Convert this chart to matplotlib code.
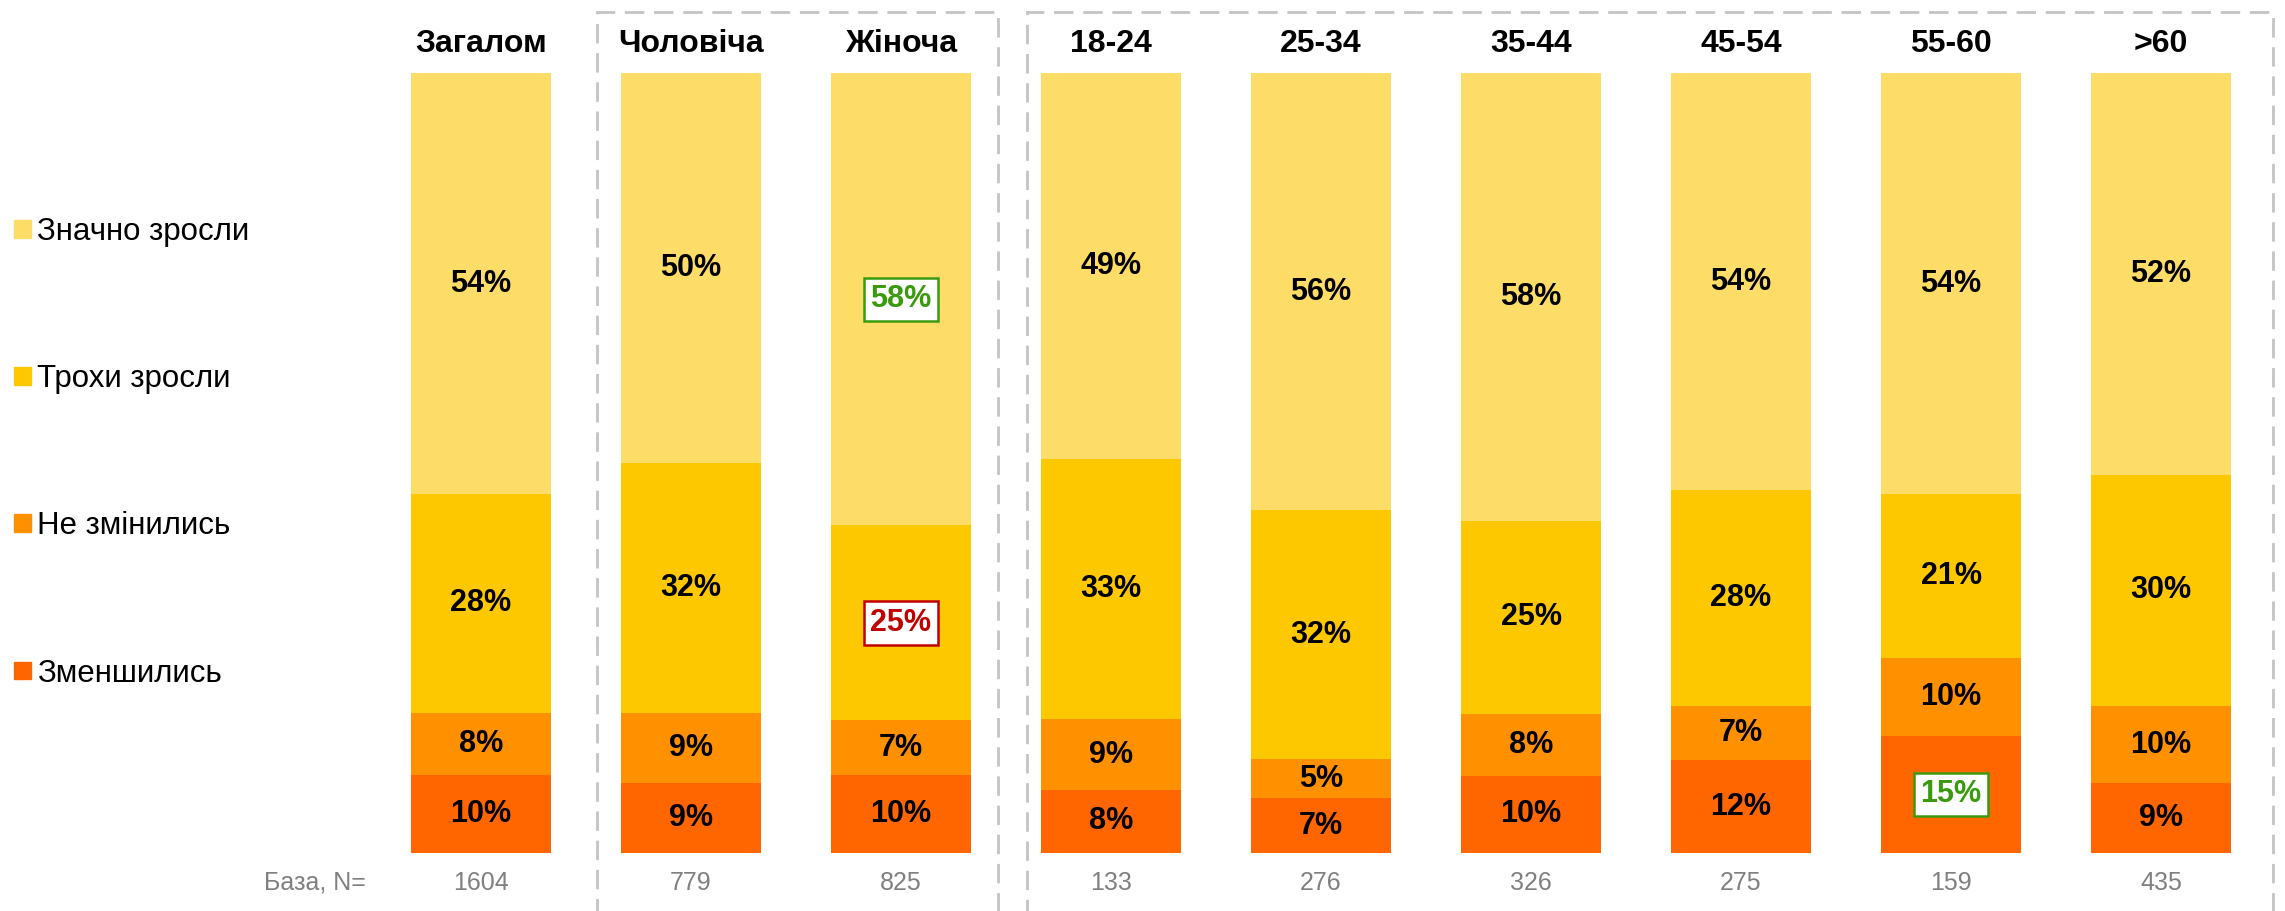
import matplotlib.pyplot as plt
from matplotlib.patches import Rectangle, Patch
import numpy as np

plt.rcParams['font.family'] = ['Liberation Sans', 'DejaVu Sans']

groups = ['Загалом', 'Чоловіча', 'Жіноча', '18-24', '25-34', '35-44', '45-54', '55-60', '>60']
base_n = [1604, 779, 825, 133, 276, 326, 275, 159, 435]

# series from bottom to top of the stack
series = ['Зменшились', 'Не змінились', 'Трохи зросли', 'Значно зросли']
decreased = [10, 9, 10, 8, 7, 10, 12, 15, 9]
unchanged = [8, 9, 7, 9, 5, 8, 7, 10, 10]
slightly_up = [28, 32, 25, 33, 32, 25, 28, 21, 30]
strongly_up = [54, 50, 58, 49, 56, 58, 54, 54, 52]
colors = ['#FF6600', '#FF9100', '#FEC800', '#FDDC67']

# highlighted labels: (group, series) -> colour
highlight = {(2, 3): '#3A9A0E', (2, 2): '#C00000', (7, 0): '#3A9A0E'}

values = np.array([decreased, unchanged, slightly_up, strongly_up], dtype=float)
shares = values / values.sum(axis=0)

fig = plt.figure(figsize=(22.85, 9.11), dpi=100)
ax = fig.add_axes([0, 0.0637, 1, 0.856])
ax.set_xlim(-2.29, 8.59)
ax.set_ylim(0, 1)
ax.axis('off')

x = np.arange(len(groups))
bottom = np.zeros(len(groups))
for s in range(len(series)):
    ax.bar(x, shares[s], bottom=bottom, width=0.667, color=colors[s], label=series[s])
    for i in range(len(groups)):
        y = bottom[i] + shares[s][i] / 2
        txt = f'{int(values[s][i])}%'
        if (i, s) in highlight:
            c = highlight[(i, s)]
            ax.text(x[i], y, txt, ha='center', va='center', fontsize=22, fontweight='bold',
                    color=c, bbox=dict(boxstyle='square,pad=0.22', fc='white', ec=c, lw=1.8))
        else:
            ax.text(x[i], y, txt, ha='center', va='center', fontsize=22, fontweight='bold')
    bottom += shares[s]

# column titles and base row
for i, g in enumerate(groups):
    ax.text(x[i], 1.037, g, ha='center', va='center', fontsize=23, fontweight='bold')
    ax.text(x[i], -0.038, str(base_n[i]), ha='center', va='center', fontsize=18, color='#808080')
ax.text(-0.55, -0.038, 'База, N=', ha='right', va='center', fontsize=18, color='#808080')

# dashed group frames
for x0, x1 in [(0.552, 2.462), (2.6, 8.533)]:
    ax.add_patch(Rectangle((x0, -0.2), x1 - x0, 1.278, fill=False, ec='#C4C4C4', lw=2,
                           ls=(0, (7, 3.5)), clip_on=False))

handles = [Patch(color=colors[s], label=series[s]) for s in reversed(range(len(series)))]
fig.legend(handles=handles, loc='center left', bbox_to_anchor=(0.006, 0.503), frameon=False,
           fontsize=22.5, handlelength=0.55, handleheight=0.5, handletextpad=0.2,
           labelspacing=3.75, borderpad=0, borderaxespad=0)

fig.savefig('out.png', dpi=100)
